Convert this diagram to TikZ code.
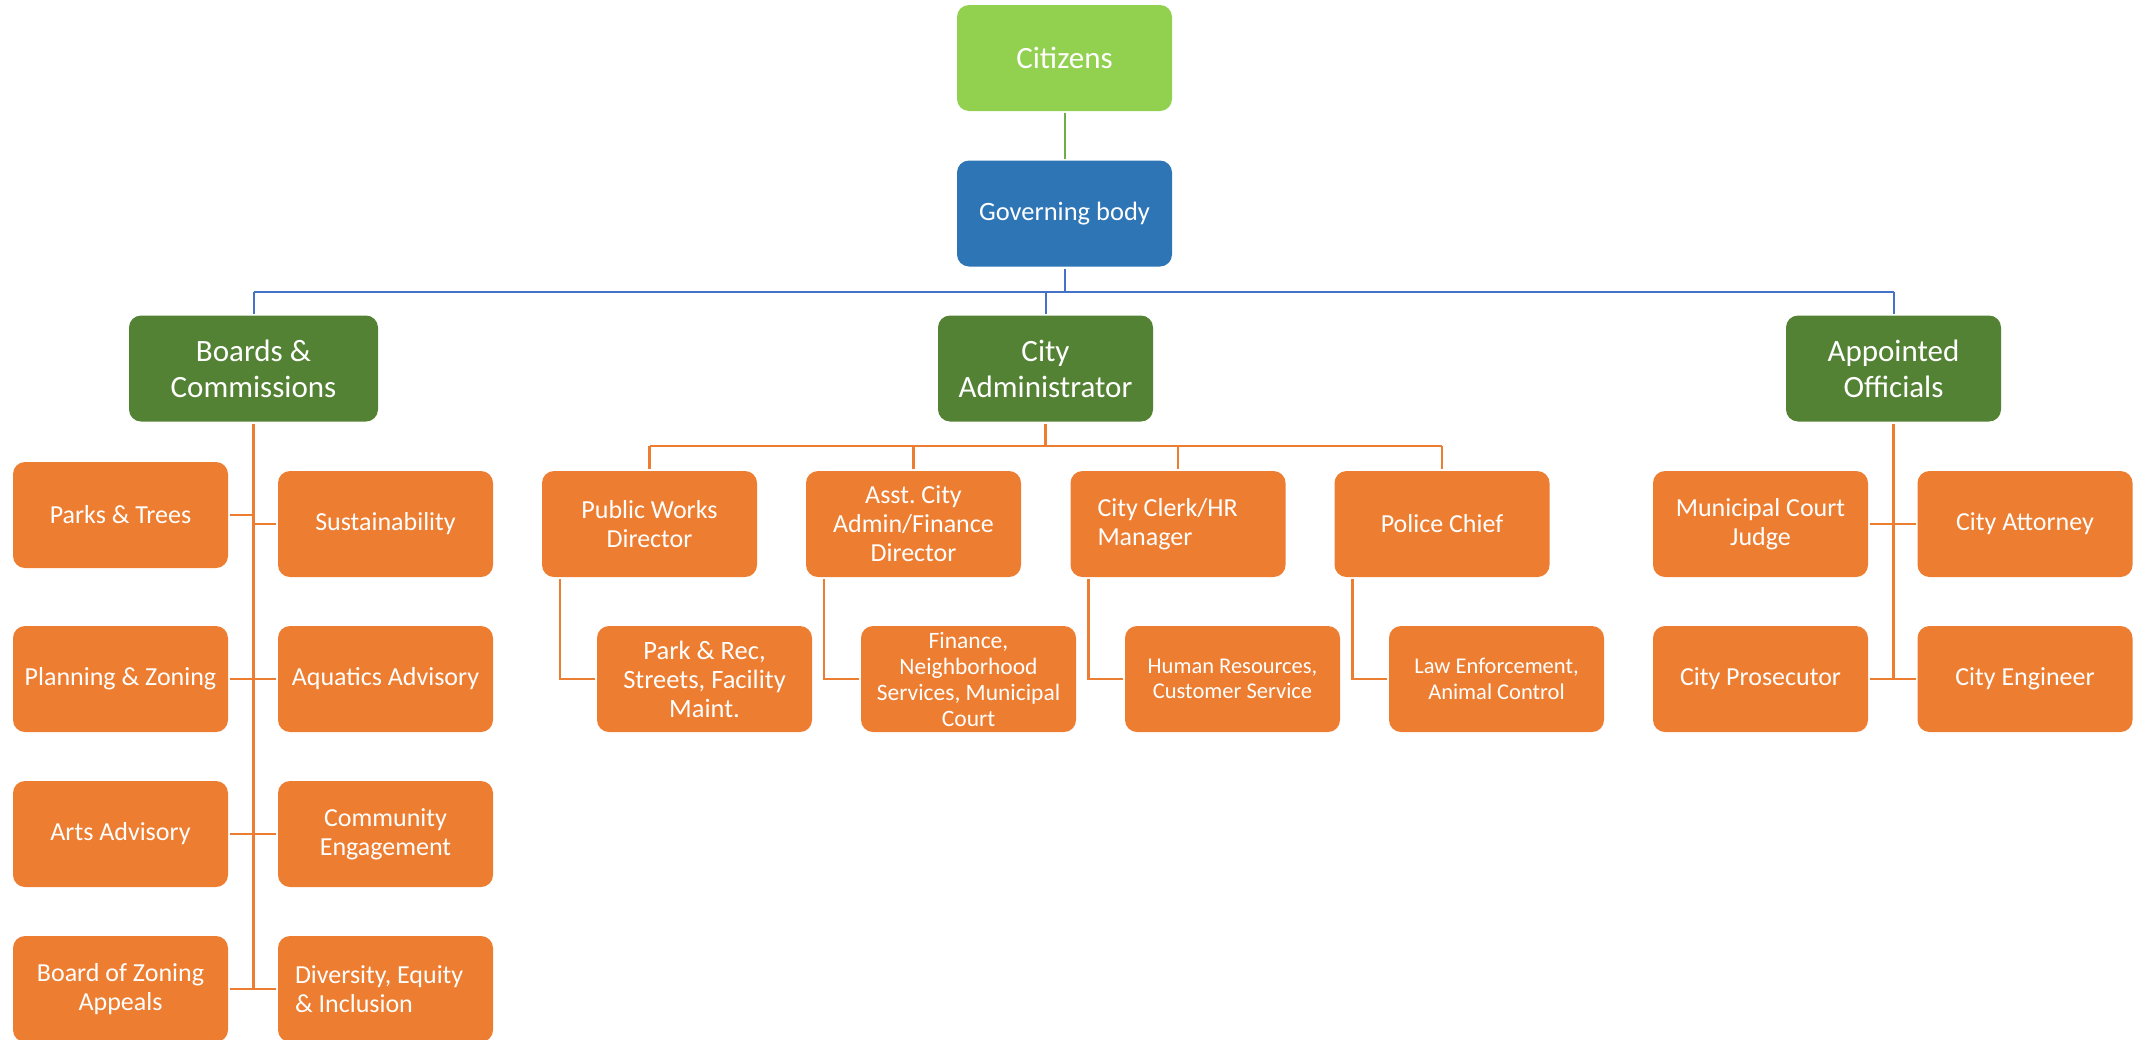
\documentclass[tikz,border=0pt]{standalone}
\usepackage{fontspec}
\setmainfont{Carlito}
\usetikzlibrary{calc}
\frenchspacing
\definecolor{cgreenlight}{HTML}{92D050}
\definecolor{cblue}{HTML}{2E75B6}
\definecolor{cgreen}{HTML}{548235}
\definecolor{corange}{HTML}{ED7D31}
\definecolor{clineblue}{HTML}{4472C4}
\definecolor{clinegreen}{HTML}{70AD47}
\begin{document}
\begin{tikzpicture}[x=1pt,y=-1pt,
  box/.style={rounded corners=12pt, text=white, align=center, inner sep=0pt, outer sep=2pt, minimum height=106pt, execute at begin node=\frenchspacing},
  obox/.style={box, fill=corange, minimum width=215pt, font=\fontsize{26}{29}\selectfont},
  gbox/.style={box, fill=cgreen, minimum width=215pt, font=\fontsize{31}{36}\selectfont},
  oline/.style={draw=corange, line width=2.5pt},
  bline/.style={draw=clineblue, line width=2pt},
]
\useasboundingbox (0,0) rectangle (2133,1039);
% top
\node[box, fill=cgreenlight, minimum width=215pt, font=\fontsize{31}{36}\selectfont] (cit) at (1064.5,58) {Citizens};
\node[box, fill=cblue, minimum width=215pt, font=\fontsize{26.5}{30}\selectfont] (gov) at (1064.5,213.5) {Governing body};
\draw[draw=clinegreen, line width=2pt] (cit) -- (gov);
% level 2
\node[gbox, minimum width=249pt] (boards) at (253.5,368.5) {Boards \&\\Commissions};
\node[gbox] (admin) at (1045.5,368.5) {City\\Administrator};
\node[gbox] (appt) at (1893.5,368.5) {Appointed\\Officials};
\coordinate (bus) at (0,292);
\draw[bline] (gov.south) -- (gov.south |- bus);
\draw[bline] (boards.north |- bus) -- (appt.north |- bus);
\draw[bline] (boards.north |- bus) -- (boards.north);
\draw[bline] (admin.north |- bus) -- (admin.north);
\draw[bline] (appt.north |- bus) -- (appt.north);
% boards children
\node[obox] (parks) at (120.5,515) {Parks \& Trees};
\node[obox] (sust) at (385.5,524) {Sustainability};
\node[obox] (plan) at (120.5,679) {Planning \& Zoning};
\node[obox] (aqua) at (385.5,679) {Aquatics Advisory};
\node[obox] (arts) at (120.5,834) {Arts Advisory};
\node[obox] (comm) at (385.5,834) {Community\\Engagement};
\node[obox] (bza) at (120.5,989) {Board of Zoning\\Appeals};
\node[obox, align=flush left, inner xsep=17pt, text width=181pt] (dei) at (385.5,989) {Diversity, Equity\\\& Inclusion};
\draw[oline] (boards.south) -- (boards.south |- bza.east);
\draw[oline] (parks.east) -- (parks.east -| boards.south);
\draw[oline] (sust.west) -- (sust.west -| boards.south);
\draw[oline] (plan.east) -- (aqua.west);
\draw[oline] (arts.east) -- (comm.west);
\draw[oline] (bza.east) -- (dei.west);
% admin children
\node[obox] (pwd) at (649.5,524) {Public Works\\Director};
\node[obox] (asst) at (913.5,524) {Asst. City\\Admin/Finance\\Director};
\node[obox, align=flush left, inner xsep=27pt, text width=161pt] (clerk) at (1178,524) {City Clerk/HR\\Manager};
\node[obox] (police) at (1442,524) {Police Chief};
\coordinate (obus) at (0,446);
\draw[oline] (admin.south) -- (admin.south |- obus);
\draw[oline] (pwd.north |- obus) -- (police.north |- obus);
\draw[oline] (pwd.north |- obus) -- (pwd.north);
\draw[oline] (asst.north |- obus) -- (asst.north);
\draw[oline] (clerk.north |- obus) -- (clerk.north);
\draw[oline] (police.north |- obus) -- (police.north);
\node[obox, font=\fontsize{26.5}{29}\selectfont] (prk) at (704.5,679) {Park \& Rec,\\Streets, Facility\\Maint.};
\node[obox, font=\fontsize{23.5}{26}\selectfont] (fin) at (968.5,679) {Finance,\\Neighborhood\\Services, Municipal\\Court};
\node[obox, font=\fontsize{22.5}{25.7}\selectfont] (hr) at (1232.5,679) {Human Resources,\\Customer Service};
\node[obox, font=\fontsize{22.5}{25.7}\selectfont] (law) at (1496.5,679) {Law Enforcement,\\Animal Control};
\draw[oline] ($(pwd.south west)+(20,0)$) |- (prk.west);
\draw[oline] ($(asst.south west)+(20,0)$) |- (fin.west);
\draw[oline] ($(clerk.south west)+(20,0)$) |- (hr.west);
\draw[oline] ($(police.south west)+(20,0)$) |- (law.west);
% appointed children
\node[obox] (judge) at (1760.5,524) {Municipal Court\\Judge};
\node[obox] (att) at (2025,524) {City Attorney};
\node[obox] (pros) at (1760.5,679) {City Prosecutor};
\node[obox] (eng) at (2025,679) {City Engineer};
\draw[oline] (appt.south) -- (appt.south |- pros.east);
\draw[oline] (judge.east) -- (att.west);
\draw[oline] (pros.east) -- (eng.west);
\end{tikzpicture}
\end{document}
